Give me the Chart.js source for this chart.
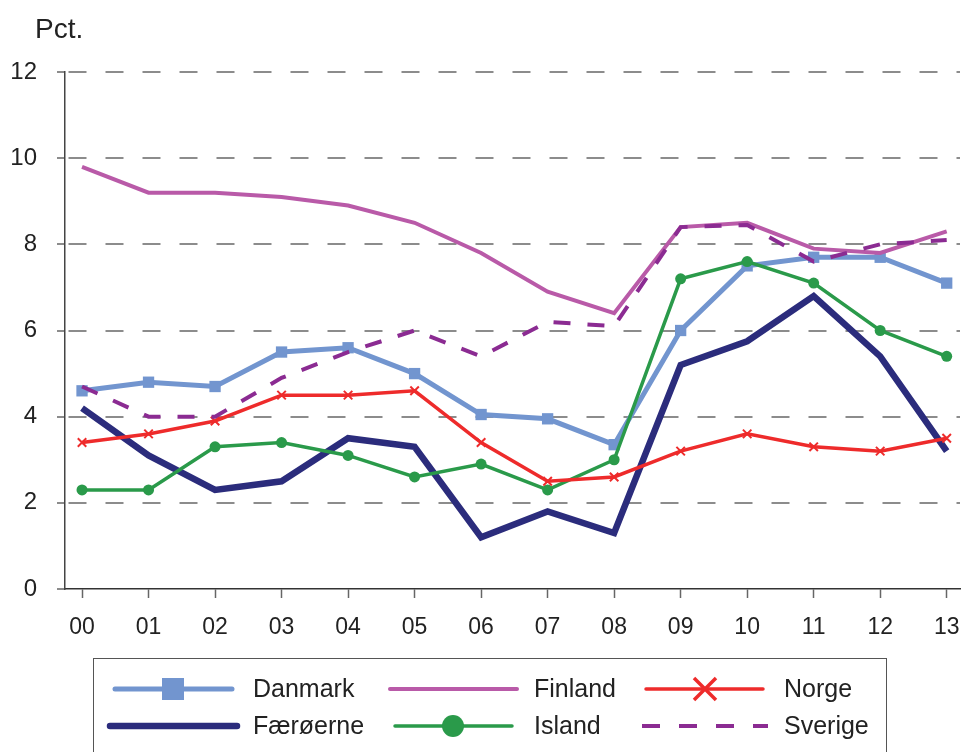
<!DOCTYPE html>
<html lang="da">
<head>
<meta charset="UTF-8">
<title>Pct.</title>
<script src="https://cdn.jsdelivr.net/npm/chart.js"></script>
<style>
  body { margin: 0; background: #fff; }
  canvas { display: block; }
</style>
</head>
<body>
<canvas id="chart" width="964" height="752"></canvas>
<script>
// data
const years = ["00", "01", "02", "03", "04", "05", "06", "07", "08", "09", "10", "11", "12", "13"];
const danmark   = [4.6, 4.8, 4.7, 5.5, 5.6, 5.0, 4.05, 3.95, 3.35, 6.0, 7.5, 7.7, 7.7, 7.1];
const finland   = [9.8, 9.2, 9.2, 9.1, 8.9, 8.5, 7.8, 6.9, 6.4, 8.4, 8.5, 7.9, 7.8, 8.3];
const norge     = [3.4, 3.6, 3.9, 4.5, 4.5, 4.6, 3.4, 2.5, 2.6, 3.2, 3.6, 3.3, 3.2, 3.5];
const faeroerne = [4.2, 3.1, 2.3, 2.5, 3.5, 3.3, 1.2, 1.8, 1.3, 5.2, 5.75, 6.8, 5.4, 3.2];
const island    = [2.3, 2.3, 3.3, 3.4, 3.1, 2.6, 2.9, 2.3, 3.0, 7.2, 7.6, 7.1, 6.0, 5.4];
const sverige   = [4.7, 4.0, 4.0, 4.9, 5.5, 6.0, 5.4, 6.2, 6.1, 8.4, 8.45, 7.6, 8.0, 8.1];
const yTicks = [0, 2, 4, 6, 8, 10, 12];

const FONT = "'Liberation Sans', Arial, sans-serif";

function pts(arr) {
  return arr.map((v, i) => ({ x: i, y: v }));
}

const datasets = [
  { label: "Danmark", data: pts(danmark), borderColor: "#7295cf", backgroundColor: "#7295cf",
    borderWidth: 5, pointStyle: "rect", pointRadius: 8, pointBorderWidth: 0, order: 5 },
  { label: "Finland", data: pts(finland), borderColor: "#b95aa8", backgroundColor: "#b95aa8",
    borderWidth: 4, pointRadius: 0, order: 4 },
  { label: "Norge", data: pts(norge), borderColor: "#ee2b2b", backgroundColor: "#ee2b2b",
    borderWidth: 3.5, pointStyle: "crossRot", pointRadius: 6, pointBorderWidth: 2, order: 1 },
  { label: "Færøerne", data: pts(faeroerne), borderColor: "#2b2c7c", backgroundColor: "#2b2c7c",
    borderWidth: 6.5, pointRadius: 0, order: 3 },
  { label: "Island", data: pts(island), borderColor: "#2a9a4a", backgroundColor: "#2a9a4a",
    borderWidth: 3.5, pointStyle: "circle", pointRadius: 5.5, pointBorderWidth: 0, order: 2 },
  { label: "Sverige", data: pts(sverige), borderColor: "#8b2b92", backgroundColor: "#8b2b92",
    borderWidth: 4, borderDash: [17, 17], pointRadius: 0, order: 0 }
];

// legend laid out like the original: 3 columns, 2 rows, in a box
const legendItems = [
  { ds: 0, x1: 115, x2: 232, mx: 173, y: 689, tx: 253, marker: "rect" },
  { ds: 1, x1: 390, x2: 517, y: 689, tx: 534 },
  { ds: 2, x1: 646, x2: 763, mx: 705, y: 689, tx: 784, marker: "cross" },
  { ds: 3, x1: 110, x2: 237, y: 726, tx: 253 },
  { ds: 4, x1: 395, x2: 512, mx: 453, y: 726, tx: 534, marker: "circle" },
  { ds: 5, x1: 642, x2: 768, y: 726, tx: 784, dash: [18, 19] }
];

const extras = {
  id: "extras",
  afterDraw(chart) {
    const ctx = chart.ctx;
    ctx.save();
    // unit label
    ctx.fillStyle = "#222";
    ctx.font = "28px " + FONT;
    ctx.textBaseline = "alphabetic";
    ctx.textAlign = "left";
    ctx.fillText("Pct.", 35, 38);

    // legend box
    ctx.strokeStyle = "#555";
    ctx.lineWidth = 1;
    ctx.strokeRect(93.5, 658.5, 793, 120);

    legendItems.forEach(it => {
      const ds = chart.data.datasets[it.ds];
      ctx.strokeStyle = ds.borderColor;
      ctx.fillStyle = ds.borderColor;
      ctx.lineWidth = ds.borderWidth;
      ctx.lineCap = "round";
      ctx.setLineDash(it.dash || []);
      if (it.dash) ctx.lineCap = "butt";
      ctx.beginPath();
      ctx.moveTo(it.x1, it.y);
      ctx.lineTo(it.x2, it.y);
      ctx.stroke();
      ctx.setLineDash([]);
      if (it.marker === "rect") {
        ctx.fillRect(it.mx - 11, it.y - 11, 22, 22);
      } else if (it.marker === "circle") {
        ctx.beginPath();
        ctx.arc(it.mx, it.y, 11, 0, Math.PI * 2);
        ctx.fill();
      } else if (it.marker === "cross") {
        ctx.lineWidth = 3.5;
        ctx.lineCap = "butt";
        ctx.beginPath();
        ctx.moveTo(it.mx - 11, it.y - 11); ctx.lineTo(it.mx + 11, it.y + 11);
        ctx.moveTo(it.mx + 11, it.y - 11); ctx.lineTo(it.mx - 11, it.y + 11);
        ctx.stroke();
      }
      ctx.fillStyle = "#222";
      ctx.font = "25px " + FONT;
      ctx.textBaseline = "middle";
      ctx.fillText(ds.label, it.tx, it.y + 1);
    });
    ctx.restore();
  }
};

new Chart(document.getElementById("chart"), {
  type: "line",
  data: { datasets: datasets },
  options: {
    responsive: false,
    animation: false,
    layout: { autoPadding: false, padding: { top: 72, right: 4, left: 0, bottom: 0 } },
    elements: { line: { tension: 0 } },
    plugins: {
      legend: { display: false },
      tooltip: { enabled: false }
    },
    scales: {
      x: {
        type: "linear",
        min: -0.256,
        max: 13.2,
        afterBuildTicks: s => { s.ticks = years.map((_, i) => ({ value: i })); },
        afterFit: s => { s.height = 163; s.paddingLeft = 0; s.paddingRight = 0; },
        ticks: {
          callback: v => years[v],
          color: "#222",
          font: { family: FONT, size: 23 },
          padding: 16,
          maxRotation: 0
        },
        grid: {
          display: true,
          drawOnChartArea: false,
          drawTicks: true,
          tickLength: 9,
          tickColor: "#666",
          tickWidth: 1.5
        },
        border: { display: true, color: "#333", width: 1.5 }
      },
      y: {
        min: 0,
        max: 12,
        afterBuildTicks: s => { s.ticks = yTicks.map(v => ({ value: v })); },
        afterFit: s => { s.width = 65; },
        ticks: {
          color: "#222",
          font: { family: FONT, size: 24 },
          padding: 20
        },
        grid: {
          color: c => (c.tick && c.tick.value === 0) ? "rgba(0,0,0,0)" : "#8c8c8c",
          lineWidth: 2,
          drawTicks: true,
          tickLength: 8,
          tickColor: "#666",
          tickWidth: 1.5,
          tickBorderDash: []
        },
        border: { display: true, color: "#444", width: 1.5, dash: [18, 19], dashOffset: 34 }
      }
    }
  },
  plugins: [extras]
});
</script>
</body>
</html>
